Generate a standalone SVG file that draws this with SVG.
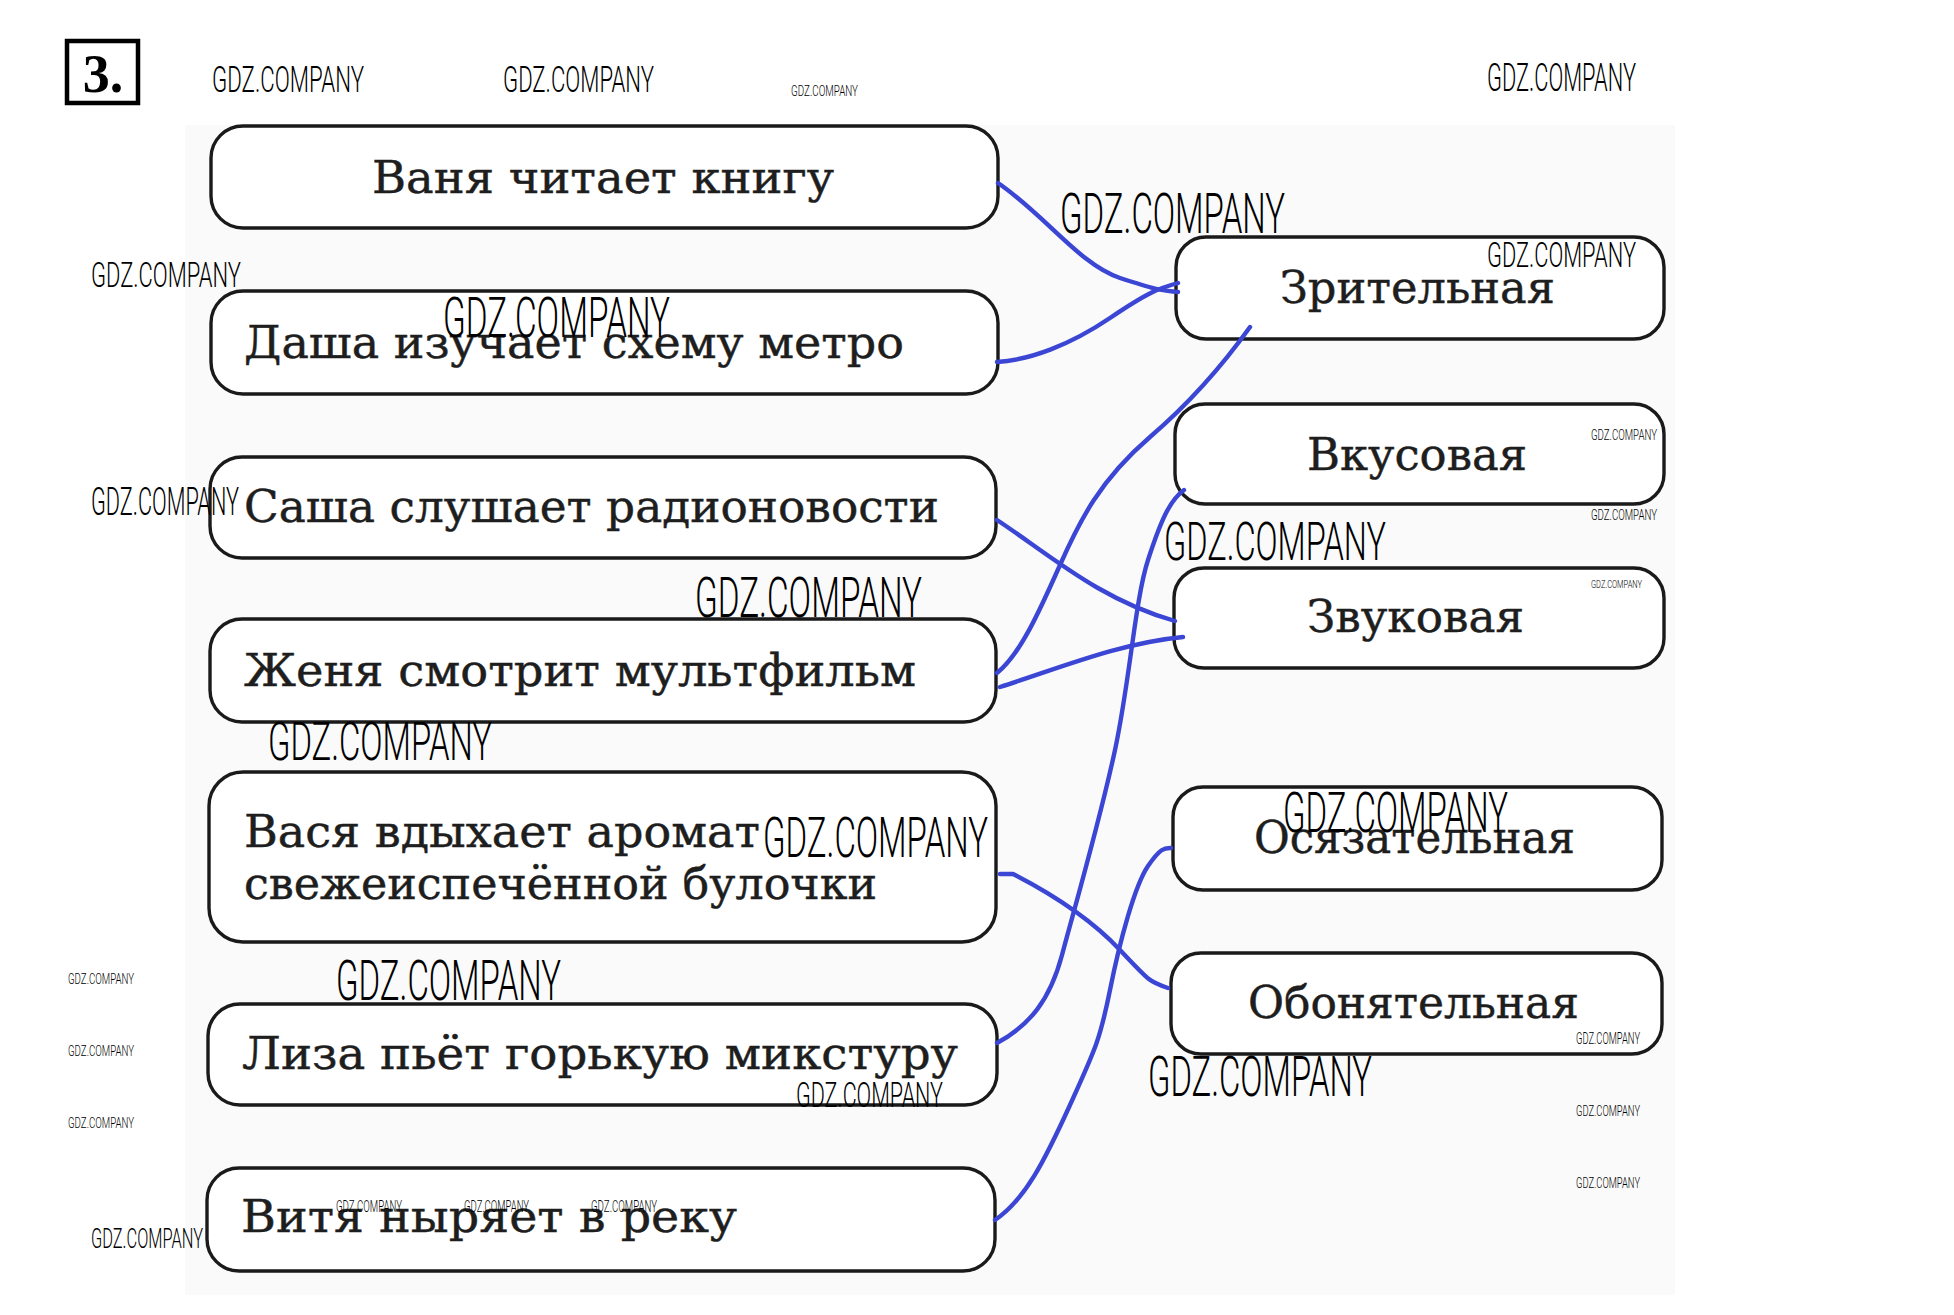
<svg xmlns="http://www.w3.org/2000/svg" width="1954" height="1315" viewBox="0 0 1954 1315">
<style>
.box{fill:#ffffff;stroke:#1a1a1a;stroke-width:3.4}
.t{font-family:"DejaVu Serif","Liberation Serif",serif;font-size:44px;fill:#1e1e1e;stroke:#1e1e1e;stroke-width:0.45}
.wm{font-family:Roboto,"Liberation Sans",sans-serif;font-weight:300;fill:#000}
.c{fill:none;stroke:#3b46d4;stroke-width:4.4;stroke-linecap:round;stroke-linejoin:round}
</style>
<rect width="1954" height="1315" fill="#ffffff"/>
<rect x="185" y="125" width="1490" height="1170" fill="#fafafa"/>

<g id="number">
<rect x="67" y="41" width="71" height="62" fill="#fff" stroke="#000" stroke-width="4.5"/>
<text x="103" y="92" text-anchor="middle" font-family="Liberation Serif,serif" font-weight="bold" font-size="54" fill="#000">3.</text>
</g>

<g id="n-vanya"><rect class="box" x="211" y="126" width="787" height="102" rx="32"/><text class="t" x="372" y="193" textLength="462" lengthAdjust="spacingAndGlyphs">Ваня читает книгу</text></g>
<g id="n-dasha"><rect class="box" x="211" y="291" width="787" height="103" rx="32"/><text class="t" x="244" y="358" textLength="660" lengthAdjust="spacingAndGlyphs">Даша изучает схему метро</text></g>
<g id="n-sasha"><rect class="box" x="210" y="457" width="786" height="101" rx="32"/><text class="t" x="244" y="522" textLength="695" lengthAdjust="spacingAndGlyphs">Саша слушает радионовости</text></g>
<g id="n-zhenya"><rect class="box" x="210" y="619" width="786" height="103" rx="32"/><text class="t" x="244" y="686" textLength="672" lengthAdjust="spacingAndGlyphs">Женя смотрит мультфильм</text></g>
<g id="n-vasya"><rect class="box" x="209" y="772" width="787" height="170" rx="34"/><text class="t" x="244" y="847" textLength="516" lengthAdjust="spacingAndGlyphs">Вася вдыхает аромат</text><text class="t" x="244" y="899" textLength="633" lengthAdjust="spacingAndGlyphs">свежеиспечённой булочки</text></g>
<g id="n-liza"><rect class="box" x="208" y="1004" width="789" height="101" rx="32"/><text class="t" x="242" y="1069" textLength="716" lengthAdjust="spacingAndGlyphs">Лиза пьёт горькую микстуру</text></g>
<g id="n-vitya"><rect class="box" x="207" y="1168" width="788" height="103" rx="32"/><text class="t" x="241" y="1232" textLength="496" lengthAdjust="spacingAndGlyphs">Витя ныряет в реку</text></g>

<g id="n-vision"><rect class="box" x="1176" y="237" width="488" height="102" rx="30"/><text class="t" x="1280" y="303" textLength="275" lengthAdjust="spacingAndGlyphs">Зрительная</text></g>
<g id="n-taste"><rect class="box" x="1175" y="404" width="489" height="100" rx="30"/><text class="t" x="1307" y="470" textLength="220" lengthAdjust="spacingAndGlyphs">Вкусовая</text></g>
<g id="n-sound"><rect class="box" x="1174" y="568" width="490" height="100" rx="30"/><text class="t" x="1307" y="632" textLength="217" lengthAdjust="spacingAndGlyphs">Звуковая</text></g>
<g id="n-touch"><rect class="box" x="1173" y="787" width="489" height="103" rx="30"/><text class="t" x="1254" y="853" textLength="321" lengthAdjust="spacingAndGlyphs">Осязательная</text></g>
<g id="n-smell"><rect class="box" x="1171" y="953" width="491" height="101" rx="30"/><text class="t" x="1248" y="1018" textLength="331" lengthAdjust="spacingAndGlyphs">Обонятельная</text></g>

<g id="connectors">
<path class="c" d="M998,183 C1045,215 1080,265 1120,278 S1160,290 1178,292"/>
<path class="c" d="M997,362 C1030,360 1070,345 1110,318 S1160,288 1178,283"/>
<path class="c" d="M997,520 C1050,555 1100,600 1175,621"/>
<path class="c" d="M1000,687 C1060,668 1120,643 1183,637"/>
<path class="c" d="M997,673 C1020,655 1040,610 1060,565 S1100,480 1150,437 S1230,355 1250,327"/>
<path class="c" d="M1000,874 L1013,874 C1050,893 1090,918 1120,950 S1150,982 1168,988"/>
<path class="c" d="M997,1043 C1030,1025 1050,1000 1062,955 S1100,820 1115,750 S1135,600 1148,560 S1170,500 1184,490"/>
<path class="c" d="M995,1220 C1025,1200 1045,1160 1070,1105 S1100,1040 1110,990 S1135,885 1148,866 S1165,848 1171,848"/>
</g>

<g id="watermarks" class="wm">
<text x="212" y="92" font-size="36.6" textLength="152" lengthAdjust="spacingAndGlyphs">GDZ.COMPANY</text>
<text x="503" y="92" font-size="36.6" textLength="151" lengthAdjust="spacingAndGlyphs">GDZ.COMPANY</text>
<text x="791" y="96" font-size="15.5" textLength="67" lengthAdjust="spacingAndGlyphs">GDZ.COMPANY</text>
<text x="1487" y="91" font-size="38" textLength="149" lengthAdjust="spacingAndGlyphs">GDZ.COMPANY</text>
<text x="1060" y="233" font-size="56" textLength="225" lengthAdjust="spacingAndGlyphs">GDZ.COMPANY</text>
<text x="1487" y="267" font-size="35" textLength="149" lengthAdjust="spacingAndGlyphs">GDZ.COMPANY</text>
<text x="91" y="287" font-size="35" textLength="150" lengthAdjust="spacingAndGlyphs">GDZ.COMPANY</text>
<text x="443" y="337" font-size="56" textLength="227" lengthAdjust="spacingAndGlyphs">GDZ.COMPANY</text>
<text x="91" y="515" font-size="38" textLength="148" lengthAdjust="spacingAndGlyphs">GDZ.COMPANY</text>
<text x="695" y="617" font-size="56" textLength="227" lengthAdjust="spacingAndGlyphs">GDZ.COMPANY</text>
<text x="268" y="760" font-size="53" textLength="224" lengthAdjust="spacingAndGlyphs">GDZ.COMPANY</text>
<text x="763" y="857" font-size="56" textLength="225" lengthAdjust="spacingAndGlyphs">GDZ.COMPANY</text>
<text x="1591" y="440" font-size="14" textLength="66" lengthAdjust="spacingAndGlyphs">GDZ.COMPANY</text>
<text x="1591" y="520" font-size="15" textLength="66" lengthAdjust="spacingAndGlyphs">GDZ.COMPANY</text>
<text x="1164" y="560" font-size="53" textLength="222" lengthAdjust="spacingAndGlyphs">GDZ.COMPANY</text>
<text x="1591" y="588" font-size="11" textLength="51" lengthAdjust="spacingAndGlyphs">GDZ.COMPANY</text>
<text x="1283" y="832" font-size="55" textLength="225" lengthAdjust="spacingAndGlyphs">GDZ.COMPANY</text>
<text x="68" y="984" font-size="15.5" textLength="66" lengthAdjust="spacingAndGlyphs">GDZ.COMPANY</text>
<text x="68" y="1056" font-size="15.5" textLength="66" lengthAdjust="spacingAndGlyphs">GDZ.COMPANY</text>
<text x="68" y="1128" font-size="15.5" textLength="66" lengthAdjust="spacingAndGlyphs">GDZ.COMPANY</text>
<text x="336" y="1000" font-size="56" textLength="225" lengthAdjust="spacingAndGlyphs">GDZ.COMPANY</text>
<text x="796" y="1107" font-size="35" textLength="147" lengthAdjust="spacingAndGlyphs">GDZ.COMPANY</text>
<text x="336" y="1212" font-size="17" textLength="66" lengthAdjust="spacingAndGlyphs">GDZ.COMPANY</text>
<text x="464" y="1212" font-size="17" textLength="65" lengthAdjust="spacingAndGlyphs">GDZ.COMPANY</text>
<text x="591" y="1212" font-size="17" textLength="66" lengthAdjust="spacingAndGlyphs">GDZ.COMPANY</text>
<text x="91" y="1248" font-size="28" textLength="112" lengthAdjust="spacingAndGlyphs">GDZ.COMPANY</text>
<text x="1576" y="1044" font-size="17" textLength="64" lengthAdjust="spacingAndGlyphs">GDZ.COMPANY</text>
<text x="1148" y="1096" font-size="55" textLength="224" lengthAdjust="spacingAndGlyphs">GDZ.COMPANY</text>
<text x="1576" y="1116" font-size="15.5" textLength="64" lengthAdjust="spacingAndGlyphs">GDZ.COMPANY</text>
<text x="1576" y="1188" font-size="15.5" textLength="64" lengthAdjust="spacingAndGlyphs">GDZ.COMPANY</text>
</g>
</svg>
